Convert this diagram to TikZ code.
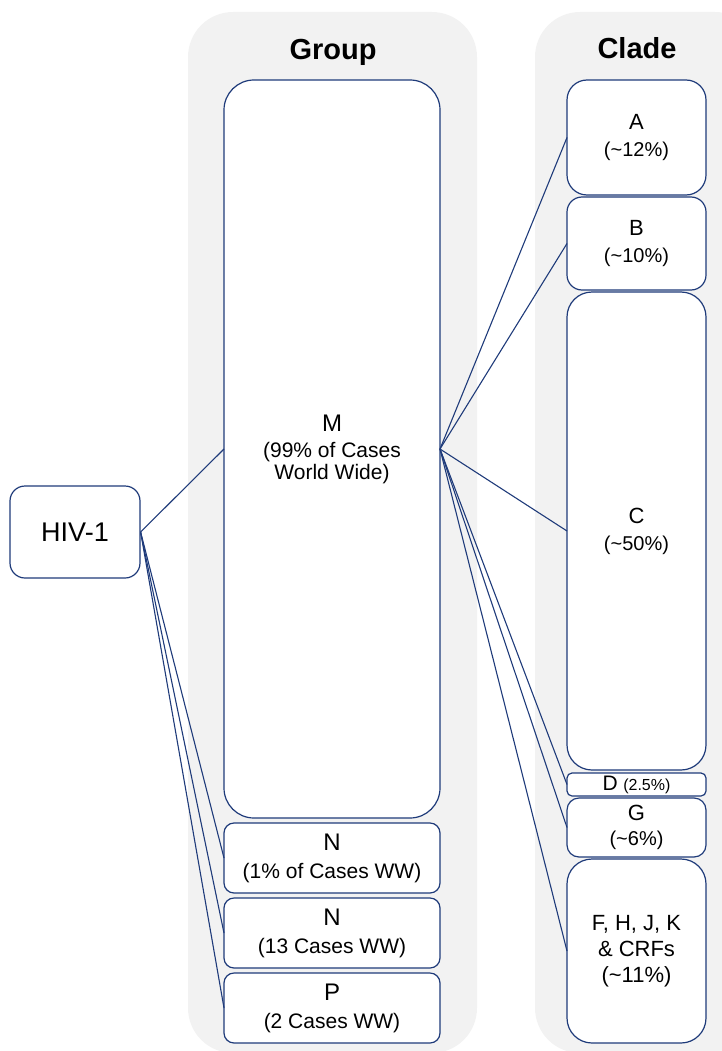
\documentclass[tikz,border=0pt]{standalone}
\usepackage{fontspec}
\setmainfont{Liberation Sans}
\usetikzlibrary{positioning}
\definecolor{hivNavy}{HTML}{1F3B7A}
\definecolor{panelGray}{HTML}{F2F2F2}
\newcommand\lblBig{\fontsize{24}{24}\selectfont}
\tikzset{
  panel/.style={fill=panelGray, draw=none, rounded corners=45pt},
  title/.style={font=\bfseries\fontsize{29}{32}\selectfont},
  grpBox/.style={rectangle, draw=hivNavy, line width=1.2pt, fill=white,
                 align=center, minimum width=216pt, inner sep=0pt, outer sep=0pt,
                 font=\fontsize{21}{22}\selectfont},
  cldBox/.style={rectangle, draw=hivNavy, line width=1.2pt, fill=white,
                 align=center, minimum width=139pt, inner sep=0pt, outer sep=0pt,
                 font=\fontsize{20}{22}\selectfont},
  link/.style={hivNavy, line width=1.1pt},
}
\begin{document}
\begin{tikzpicture}[x=1pt, y=-1pt]
    \useasboundingbox (0,0) rectangle (722,1051);
    % background columns
    \fill[panel] (188,12) rectangle (477,1053);
    \fill[panel] (535,12) rectangle (760,1053);
    \node[title] (tg) at (333,52) {Group};
    \node[title] (tc) at (637,48) {Clade};

    \node[rectangle, draw=hivNavy, line width=1.2pt, fill=white, rounded corners=15pt,
          minimum width=130pt, minimum height=92pt, inner sep=0pt,
          font=\fontsize{27}{28}\selectfont] (hiv) at (75,532) {HIV-1};

    % group column
    \node[grpBox, rounded corners=30pt, minimum height=738pt] (m) at (332,449)
        {{\lblBig M}\\[4pt](99\% of Cases\\World Wide)};
    \node[grpBox, rounded corners=10pt, minimum height=70pt, below=5pt of m] (n1)
        {{\lblBig N}\\[6pt](1\% of Cases WW)};
    \node[grpBox, rounded corners=10pt, minimum height=70pt, below=5pt of n1] (n2)
        {{\lblBig N}\\[6pt](13 Cases WW)};
    \node[grpBox, rounded corners=10pt, minimum height=70pt, below=5pt of n2] (p)
        {{\lblBig P}\\[6pt](2 Cases WW)};

    % clade column
    \node[cldBox, rounded corners=20pt, minimum height=115pt] (a) at (636.5,137.5)
        {{\fontsize{22}{22}\selectfont A}\\[5pt](\textasciitilde 12\%)};
    \node[cldBox, rounded corners=15pt, minimum height=93pt, below=2pt of a] (b)
        {{\fontsize{22}{22}\selectfont B}\\[5pt](\textasciitilde 10\%)};
    \node[cldBox, rounded corners=25pt, minimum height=478pt, below=2pt of b] (c)
        {{\fontsize{22}{22}\selectfont C}\\[5pt](\textasciitilde 50\%)};
    \node[cldBox, rounded corners=5pt, minimum height=23pt, below=3pt of c] (d)
        {{\fontsize{21}{20}\selectfont D} {\fontsize{16}{16}\selectfont (2.5\%)}};
    \node[cldBox, rounded corners=12pt, minimum height=59pt, below=2pt of d] (g)
        {{\fontsize{22}{22}\selectfont G}\\[3pt](\textasciitilde 6\%)};
    \node[cldBox, rounded corners=25pt, minimum height=184pt, below=2pt of g,
          font=\fontsize{22}{26}\selectfont] (f)
        {F, H, J, K\\\& CRFs\\(\textasciitilde 11\%)};

    % links
    \foreach \t in {m, n1, n2, p}
        \draw[link] (hiv.east) -- (\t.west);
    \foreach \t in {a, b, c, d, g, f}
        \draw[link] (m.east) -- (\t.west);
\end{tikzpicture}
\end{document}
